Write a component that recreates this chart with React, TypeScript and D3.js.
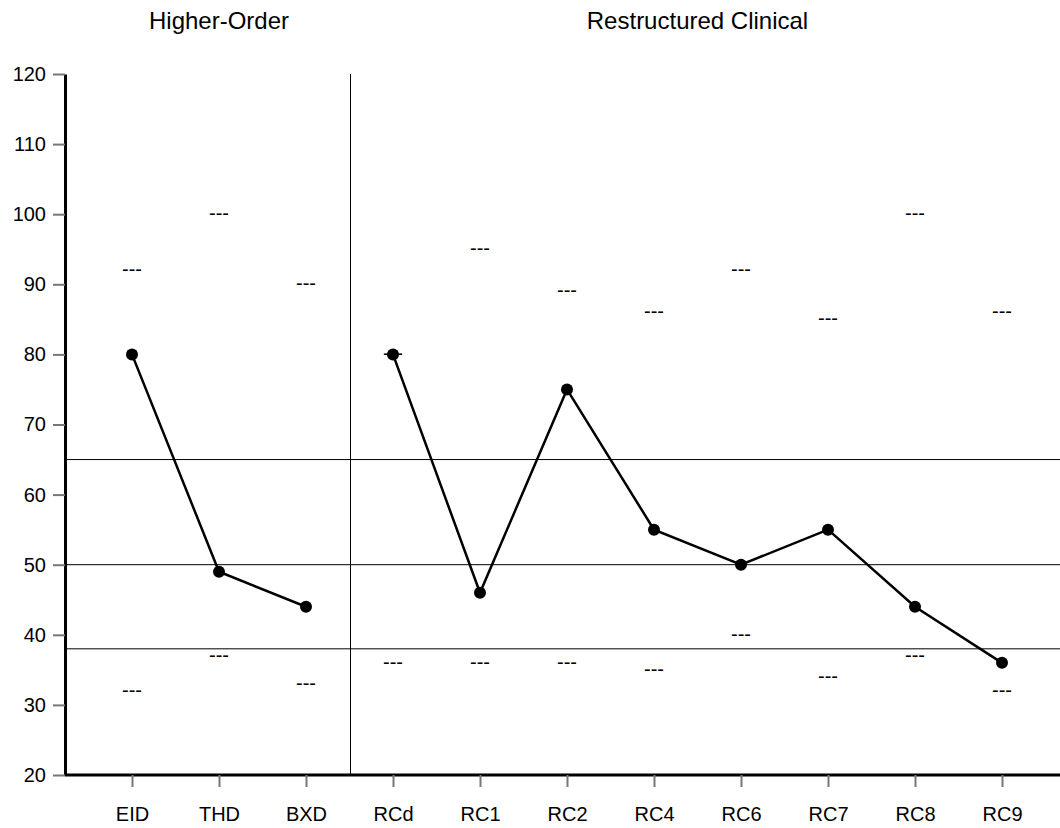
import React, { useEffect, useRef } from 'react';
import * as d3 from 'd3';

// scales on the profile
const scales = ['EID', 'THD', 'BXD', 'RCd', 'RC1', 'RC2', 'RC4', 'RC6', 'RC7', 'RC8', 'RC9'];
// T scores
const scores = [80, 49, 44, 80, 46, 75, 55, 50, 55, 44, 36];
// upper / lower "---" markers
const upperMarks = [92, 100, 90, 80, 95, 89, 86, 92, 85, 100, 86];
const lowerMarks = [32, 37, 33, 36, 36, 36, 35, 40, 34, 37, 32];
// reference lines
const refLines = [65, 50, 38];
const yTicks = [20, 30, 40, 50, 60, 70, 80, 90, 100, 110, 120];
const groups = [
  { title: 'Higher-Order', from: 'EID', to: 'BXD' },
  { title: 'Restructured Clinical', from: 'RCd', to: 'RC9' },
];

const width = 1060;
const height = 828;
const margin = { top: 74, right: 0, bottom: 53, left: 65 };
const font = 'Arial, "Liberation Sans", Helvetica, sans-serif';

export default function App() {
  const ref = useRef<SVGSVGElement>(null);

  useEffect(() => {
    const svg = d3.select(ref.current);
    svg.selectAll('*').remove();

    const x = d3.scalePoint<string>()
      .domain(scales)
      .range([132, 1002]);
    const y = d3.scaleLinear()
      .domain([20, 120])
      .range([height - margin.bottom, margin.top]);

    const divX = (x('BXD')! + x('RCd')!) / 2 + 1;

    // reference lines
    svg.append('g')
      .selectAll('line')
      .data(refLines)
      .join('line')
      .attr('x1', margin.left)
      .attr('x2', width)
      .attr('y1', d => y(d))
      .attr('y2', d => y(d))
      .attr('stroke', '#000')
      .attr('stroke-width', 1);

    // group divider
    svg.append('line')
      .attr('x1', divX).attr('x2', divX)
      .attr('y1', y(120)).attr('y2', y(20))
      .attr('stroke', '#000')
      .attr('stroke-width', 1);

    // group titles
    svg.append('g')
      .selectAll('text')
      .data(groups)
      .join('text')
      .attr('x', d => (x(d.from)! + x(d.to)!) / 2)
      .attr('y', 29)
      .attr('text-anchor', 'middle')
      .attr('font-family', font)
      .attr('font-size', 24)
      .text(d => d.title);

    // y axis
    const yAxis = d3.axisLeft(y).tickValues(yTicks).tickSize(12).tickSizeOuter(0).tickPadding(7);
    const gy = svg.append('g')
      .attr('transform', `translate(${margin.left},0)`)
      .call(yAxis);
    gy.select('.domain').attr('stroke', '#000').attr('stroke-width', 3);
    gy.selectAll('.tick line').attr('stroke', '#777').attr('stroke-width', 2);
    gy.selectAll('.tick text')
      .attr('font-family', font)
      .attr('font-size', 20)
      .attr('fill', '#000');

    // x axis
    const xAxis = d3.axisBottom(x).tickSize(12).tickSizeOuter(0).tickPadding(20);
    const gx = svg.append('g')
      .attr('transform', `translate(0,${height - margin.bottom})`)
      .call(xAxis);
    gx.select('.domain')
      .attr('d', `M${margin.left},0H${width}`)
      .attr('stroke', '#000')
      .attr('stroke-width', 3);
    gx.selectAll('.tick line').attr('stroke', '#777').attr('stroke-width', 2);
    gx.selectAll('.tick text')
      .attr('font-family', font)
      .attr('font-size', 20)
      .attr('fill', '#000');

    // "---" markers
    const marks = scales.flatMap((s, i) => [
      { s, v: upperMarks[i] },
      { s, v: lowerMarks[i] },
    ]);
    svg.append('g')
      .selectAll('text')
      .data(marks)
      .join('text')
      .attr('x', d => x(d.s)!)
      .attr('y', d => y(d.v) + 6)
      .attr('text-anchor', 'middle')
      .attr('font-family', font)
      .attr('font-size', 20)
      .text('---');

    // score line, broken between groups
    const pts = scales.map((s, i) => ({ s, v: scores[i] }));
    const line = d3.line<{ s: string; v: number }>()
      .x(d => x(d.s)!)
      .y(d => y(d.v));
    [pts.slice(0, 3), pts.slice(3)].forEach(seg => {
      svg.append('path')
        .datum(seg)
        .attr('fill', 'none')
        .attr('stroke', '#000')
        .attr('stroke-width', 2.5)
        .attr('d', line);
    });
    svg.append('g')
      .selectAll('circle')
      .data(pts)
      .join('circle')
      .attr('cx', d => x(d.s)!)
      .attr('cy', d => y(d.v))
      .attr('r', 6)
      .attr('fill', '#000');
  }, []);

  return (
    <svg
      ref={ref}
      width={width}
      height={height}
      style={{ position: 'absolute', left: 0, top: 0, background: '#fff' }}
    />
  );
}
